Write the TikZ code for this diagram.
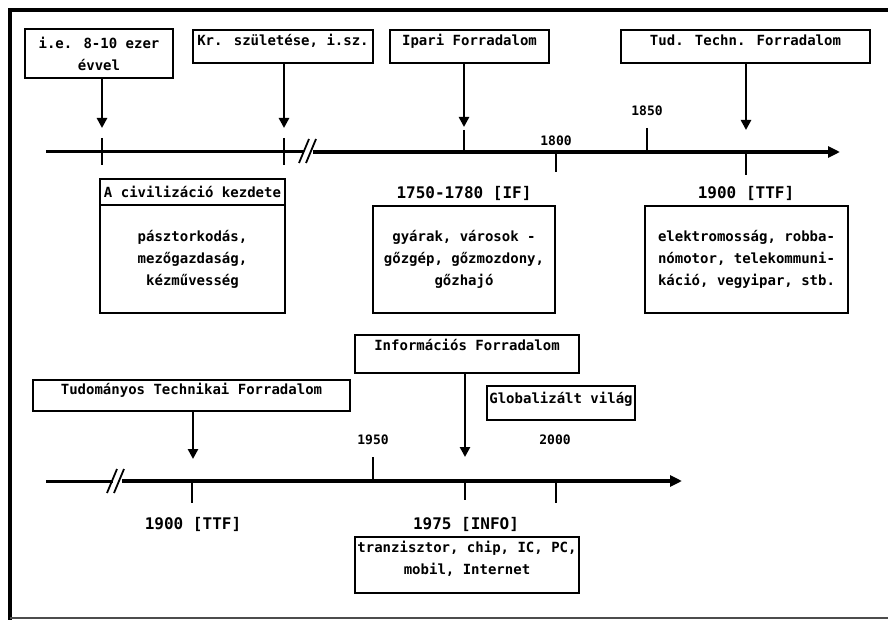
\documentclass[tikz,border=0pt]{standalone}
\usepackage{fontspec}
\setmainfont{DejaVu Sans Mono}
\usetikzlibrary{arrows.meta}
\begin{document}
\begin{tikzpicture}[x=1pt,y=-1pt,
  box/.style={draw, line width=1.8pt, inner sep=2pt, font=\bfseries\fontsize{14}{22}\selectfont, align=center},
  topbox/.style={box, anchor=north, inner ysep=4pt, minimum height=0pt},
  lbl/.style={font=\bfseries\fontsize{16}{18}\selectfont},
  yr/.style={font=\bfseries\fontsize{13}{15}\selectfont},
  conn/.style={line width=2.5pt, -{Triangle[length=10pt,width=10pt]}},
  tick/.style={line width=2.6pt},
  axthin/.style={line width=3pt},
  axthick/.style={line width=4.2pt},
  brk/.style={line width=1.8pt},
  frame/.style={line width=3.5pt, line cap=rect}
]
\useasboundingbox (0,0) rectangle (888,620);
% frame
\draw[frame] (888,10) -- (10,10) -- (10,618);
\draw[line width=1.5pt, black!70] (10,618) -- (888,618);

% ---------- top timeline ----------
\node[box, minimum width=148pt, minimum height=49pt] (b1) at (99,53.5) {i.e. 8-10 ezer\\évvel};
\node[topbox, minimum width=180pt, text height=12pt, text depth=13pt] (b2) at (283,29) {Kr. születése, i.sz.};
\node[topbox, minimum width=159pt, text height=12pt, text depth=13pt] (b3) at (469.5,29) {Ipari Forradalom};
\node[topbox, minimum width=249pt, text height=12pt, text depth=13pt] (b4) at (745.5,29) {Tud. Techn. Forradalom};

\coordinate (a1) at (102,128);
\coordinate (a2) at (284,128);
\coordinate (a3) at (464,127);
\coordinate (a4) at (746,130);
\draw[conn] (b1.south -| a1) -- (a1);
\draw[conn] (b2.south -| a2) -- (a2);
\draw[conn] (b3.south -| a3) -- (a3);
\draw[conn] (b4.south -| a4) -- (a4);

\coordinate (ax1s) at (46,152);
\coordinate (ax1b) at (304,152);
\coordinate (ax1c) at (313,152);
\coordinate (ax1e) at (840,152);
\draw[axthin] (ax1s) -- (ax1b);
\draw[axthick, -{Triangle[length=12pt,width=11pt]}] (ax1c) -- (ax1e);
\draw[brk] (299,163) -- (309,139);
\draw[brk] (306,163) -- (316,139);

\draw[tick] (102,138) -- (102,165);
\draw[tick] (284,138) -- (284,165);
\draw[tick] (464,130) -- (464,152);
\draw[tick] (556,152) -- (556,172);
\draw[tick] (647,128) -- (647,152);
\draw[tick] (746,152) -- (746,175);

\node[yr] (y1800) at (556,141) {1800};
\node[yr] (y1850) at (647,111) {1850};
\node[lbl] (l1) at (464,193) {1750-1780 [IF]};
\node[lbl] (l2) at (746,193) {1900 [TTF]};

\node[box, minimum width=185pt, minimum height=26pt, inner sep=0pt] (civh) at (192.5,192) {A civilizáció kezdete};
\node[box, minimum width=185pt, minimum height=108pt] (civb) at (192.5,259) {pásztorkodás,\\mezőgazdaság,\\kézművesség};
\node[box, minimum width=182pt, minimum height=107pt] (ifb) at (464,259.5) {gyárak, városok -\\gőzgép, gőzmozdony,\\gőzhajó};
\node[box, minimum width=203pt, minimum height=107pt] (ttfb) at (746.5,259.5) {elektromosság, robba-\\nómotor, telekommuni-\\káció, vegyipar, stb.};

% ---------- bottom timeline ----------
\node[topbox, minimum width=224pt, text height=12pt, text depth=18pt] (info) at (467,334) {Információs Forradalom};
\node[topbox, minimum width=317pt, text height=11pt, text depth=12pt] (tudo) at (191.5,379) {Tudományos Technikai Forradalom};
\node[topbox, minimum width=148pt, text height=14pt, text depth=12pt] (glob) at (561,385) {Globalizált világ};

\coordinate (a6) at (193,459);
\coordinate (a7) at (465,457);
\draw[conn] (tudo.south -| a6) -- (a6);
\draw[conn] (info.south -| a7) -- (a7);

\coordinate (ax2s) at (46,481);
\coordinate (ax2b) at (113,481);
\coordinate (ax2c) at (122,481);
\coordinate (ax2e) at (682,481);
\draw[axthin] (ax2s) -- (ax2b);
\draw[axthick, -{Triangle[length=12pt,width=11pt]}] (ax2c) -- (ax2e);
\draw[brk] (107,493) -- (117,469);
\draw[brk] (114,493) -- (124,469);

\draw[tick] (192,481) -- (192,503);
\draw[tick] (373,457) -- (373,481);
\draw[tick] (465,481) -- (465,500);
\draw[tick] (556,481) -- (556,503);

\node[yr] (y1950) at (373,440) {1950};
\node[yr] (y2000) at (555,440) {2000};
\node[lbl] (l3) at (193,524) {1900 [TTF]};
\node[lbl] (l4) at (466,524) {1975 [INFO]};

\node[box, minimum width=224pt, minimum height=56pt] (tranz) at (467,565) {tranzisztor, chip, IC, PC,\\mobil, Internet\\[-8pt]};
\end{tikzpicture}
\end{document}
